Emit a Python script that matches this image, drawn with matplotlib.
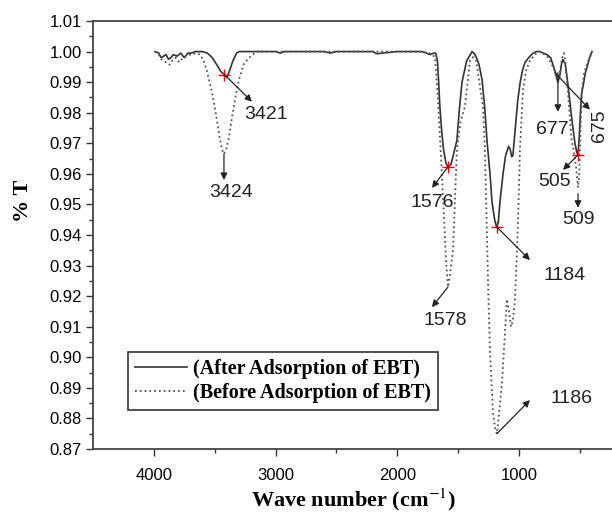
import matplotlib
matplotlib.use('Agg')
import matplotlib.pyplot as plt
import numpy as np

# spectrum after adsorption (solid)
after_wn = [3990, 3960, 3940, 3920, 3900, 3880, 3860, 3840, 3810, 3780, 3750, 3720,
            3690, 3660, 3600, 3560, 3520, 3480, 3450, 3421, 3400, 3380, 3350, 3320,
            3300, 3000, 2960, 2930, 2600, 2550, 2500, 2200, 2170, 2000, 1800, 1760,
            1730, 1700, 1685, 1670, 1660, 1650, 1635, 1620, 1600, 1583, 1560, 1540,
            1510, 1490, 1468, 1430, 1385, 1360, 1330, 1304, 1280, 1263, 1238, 1222,
            1200, 1184, 1170, 1156, 1131, 1110, 1085, 1072, 1060, 1050, 1030, 1010,
            990, 970, 950, 920, 890, 860, 830, 800, 770, 740, 715, 700, 680, 665,
            650, 640, 620, 600, 580, 560, 540, 525, 515, 505, 495, 485, 474, 455,
            440, 420, 400]
after_t = [1.000, 0.9995, 0.998, 0.9985, 0.999, 0.9975, 0.998, 0.999, 0.9985, 0.9995,
           0.998, 0.9995, 0.9995, 1.000, 1.000, 0.9995, 0.998, 0.9955, 0.9935, 0.9925,
           0.9915, 0.9935, 0.997, 0.9995, 1.000, 1.000, 0.9995, 1.000, 1.000, 0.9995,
           1.000, 1.000, 0.9993, 1.000, 1.000, 0.9995, 0.999, 0.9995, 0.9995, 0.997,
           0.990, 0.982, 0.974, 0.968, 0.9635, 0.9623, 0.963, 0.966, 0.971, 0.981,
           0.990, 0.997, 1.000, 0.999, 0.996, 0.991, 0.981, 0.971, 0.960, 0.951,
           0.945, 0.9426, 0.944, 0.951, 0.960, 0.966, 0.969, 0.968, 0.9656, 0.966,
           0.975, 0.984, 0.990, 0.994, 0.9965, 0.998, 0.9993, 1.000, 1.000, 0.9995,
           0.999, 0.998, 0.995, 0.993, 0.990, 0.992, 0.996, 0.9974, 0.996, 0.990,
           0.983, 0.976, 0.970, 0.967, 0.9662, 0.972, 0.980, 0.9865, 0.9885, 0.993,
           0.995, 0.998, 1.000]

# spectrum before adsorption (dotted)
before_wn = [3990, 3960, 3930, 3900, 3870, 3850, 3820, 3790, 3760, 3730, 3700, 3650,
             3620, 3590, 3560, 3530, 3500, 3480, 3460, 3440, 3424, 3405, 3385, 3360,
             3330, 3300, 3260, 3228, 3190, 3150, 1800, 1740, 1710, 1690, 1665, 1640,
             1615, 1600, 1583, 1570, 1542, 1510, 1480, 1444, 1403, 1360, 1337, 1296,
             1280, 1263, 1250, 1238, 1214, 1195, 1181, 1165, 1140, 1115, 1100, 1085,
             1065, 1050, 1033, 1016, 1000, 992, 967, 940, 910, 870, 827, 790, 760,
             720, 700, 685, 665, 645, 632, 620, 600, 585, 570, 545, 530, 515, 505,
             497, 490, 480, 465, 440, 420, 400]
before_t = [1.000, 0.999, 0.997, 0.9965, 0.9957, 0.997, 0.998, 0.9965, 0.998, 0.9985,
            0.999, 0.9995, 0.999, 0.997, 0.993, 0.988, 0.982, 0.977, 0.972, 0.968,
            0.9665, 0.968, 0.9715, 0.978, 0.985, 0.991, 0.996, 0.9975, 0.999, 1.000,
            1.000, 0.9995, 0.999, 0.998, 0.984, 0.965, 0.945, 0.932, 0.923, 0.926,
            0.935, 0.968, 0.977, 0.982, 0.997, 0.999, 0.993, 0.982, 0.968, 0.940,
            0.918, 0.902, 0.882, 0.8765, 0.875, 0.881, 0.8915, 0.908, 0.919, 0.916,
            0.910, 0.912, 0.919, 0.935, 0.955, 0.968, 0.9875, 0.994, 0.997, 0.999,
            1.000, 0.999, 0.998, 0.995, 0.993, 0.990, 0.993, 0.998, 0.9995, 0.997,
            0.988, 0.980, 0.972, 0.966, 0.962, 0.9555, 0.960, 0.970, 0.980, 0.988,
            0.993, 0.996, 0.998, 0.9995]

# peak labels: text, arrow tail, arrow tip, label position, rotation
peak_labels = ['3421', '3424', '1576', '1578', '1184', '1186', '677', '675', '505', '509']
tail_pts = [(3421, 0.9925), (3424, 0.9665), (1583, 0.9623), (1583, 0.923),
            (1181, 0.9426), (1181, 0.875), (680, 0.9931), (704, 0.9931),
            (515, 0.9662), (515, 0.9535)]
tip_pts = [(3194, 0.9836), (3424, 0.958), (1715, 0.9554), (1715, 0.9164),
           (910, 0.9318), (910, 0.886), (680, 0.9803), (417, 0.981),
           (638, 0.9613), (515, 0.9489)]
label_pts = [(3079, 0.9793), (3365, 0.9538), (1715, 0.9505), (1608, 0.9121),
             (622, 0.9269), (565, 0.8866), (730, 0.9744), (338, 0.9758),
             (704, 0.9574), (515, 0.945)]
label_rot = [0, 0, 0, 0, 0, 0, 0, 90, 0, 0]
marked = [(3421, 0.9925), (1583, 0.9623), (1181, 0.9426), (515, 0.9662)]

plt.rcParams['font.family'] = 'Liberation Sans'
plt.rcParams['mathtext.fontset'] = 'stix'

fig = plt.figure(figsize=(6.12, 5.16), dpi=100)
ax = fig.add_axes([93/612, 1 - 449/516, 522/612, 428/516])

ax.plot(after_wn, after_t, '-', color='#333333', lw=1.2,
        label='(After Adsorption of EBT)')
ax.plot(before_wn, before_t, ':', color='#555555', lw=1.3,
        label='(Before Adsorption of EBT)')

for i in range(len(peak_labels)):
    ax.annotate('', xy=tip_pts[i], xytext=tail_pts[i],
                arrowprops=dict(arrowstyle='-|>', color='#222222', lw=0.9,
                                mutation_scale=10, shrinkA=0, shrinkB=0))
    ax.text(label_pts[i][0], label_pts[i][1], peak_labels[i], fontsize=14,
            rotation=label_rot[i], ha='center', va='center', color='#222222')

for p in marked:
    ax.plot(p[0], p[1], '+', color='red', ms=8, mew=1.0)

ax.set_xlim(4500, 211)
ax.set_ylim(0.87, 1.01)
ax.set_xticks([4000, 3000, 2000, 1000])
ax.set_xticks([3500, 2500, 1500, 500], minor=True)
ax.set_yticks(np.arange(0.87, 1.0101, 0.01))
ax.set_yticks(np.arange(0.875, 1.01, 0.01), minor=True)
ax.yaxis.set_major_formatter(matplotlib.ticker.FormatStrFormatter('%.2f'))
ax.tick_params(which='both', direction='out', color='#333333', width=1.0)
ax.tick_params(which='major', length=5, labelsize=12, pad=3)
ax.tick_params(which='minor', length=3)
ax.tick_params(axis='x', pad=9)
for s in ax.spines.values():
    s.set_linewidth(1.3)
    s.set_color('#444444')

ax.set_xlabel('Wave number (cm$^{-1}$)', fontsize=16, fontweight='bold',
              family='Liberation Serif', labelpad=2)
ax.set_ylabel('% T', fontsize=16, fontweight='bold', family='Liberation Serif')
ax.yaxis.set_label_coords(-0.115, 0.58)

leg = ax.legend(loc='lower left', bbox_to_anchor=(0.067, 0.091),
                prop={'family': 'Liberation Serif', 'size': 14.5, 'weight': 'bold'},
                frameon=True, fancybox=False, edgecolor='#333333', framealpha=1,
                handlelength=2.6, handletextpad=0.3, borderpad=0.35,
                labelspacing=0.2, borderaxespad=0)
leg.get_frame().set_linewidth(1.2)

fig.savefig('out.png', dpi=100)
